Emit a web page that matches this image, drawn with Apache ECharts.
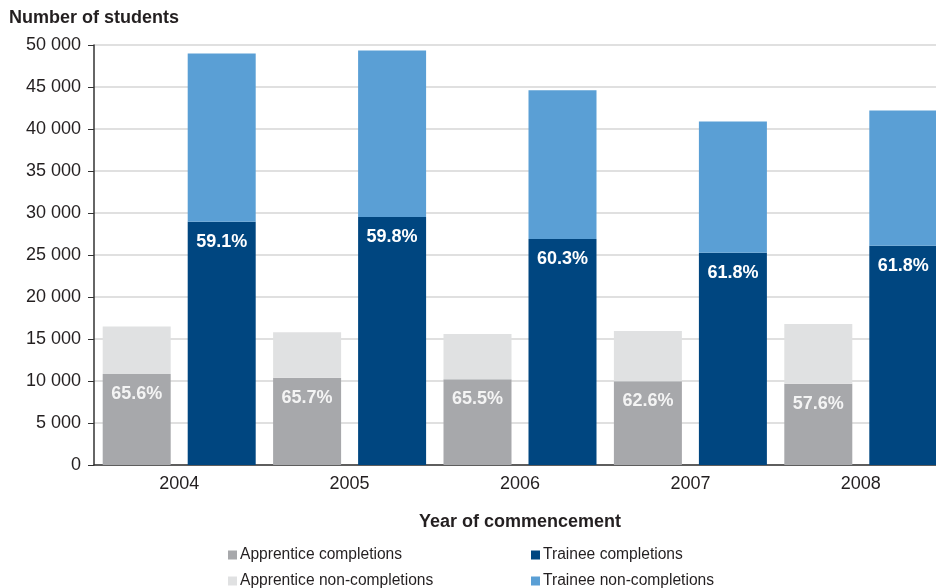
<!DOCTYPE html>
<html>
<head>
<meta charset="utf-8">
<script src="https://cdn.jsdelivr.net/npm/echarts@6/dist/echarts.min.js"></script>
<style>
  html, body { margin: 0; padding: 0; background: #fff; }
  #chart { width: 936px; height: 588px; }
</style>
</head>
<body>
<div id="chart"></div>
<script>
// Year of commencement
const years = ['2004', '2005', '2006', '2007', '2008'];

// Number of students by outcome
const apprenticeCompletions    = [10820, 10380, 10220, 9980, 9680];
const apprenticeNonCompletions = [5680, 5420, 5380, 5970, 7120];
const traineeCompletions       = [28960, 29510, 26890, 25280, 26100];
const traineeNonCompletions    = [20040, 19840, 17710, 15620, 16100];

// Completion rates printed on the completion bars
const apprenticeRates = ['65.6%', '65.7%', '65.5%', '62.6%', '57.6%'];
const traineeRates    = ['59.1%', '59.8%', '60.3%', '61.8%', '61.8%'];

const FONT = '"Liberation Sans", Arial, Helvetica, sans-serif';
const TEXT = '#231f20';

const chart = echarts.init(document.getElementById('chart'), null, { renderer: 'canvas' });

function rateLabel(rates, color) {
  return {
    show: true,
    position: 'insideTop',
    distance: 11,
    color: color,
    fontFamily: FONT,
    fontSize: 18,
    fontWeight: 'bold',
    formatter: p => rates[p.dataIndex]
  };
}

function legendItem(name, left, top) {
  return {
    data: [name],
    left: left,
    top: top,
    padding: 0,
    icon: 'rect',
    itemWidth: 9,
    itemHeight: 9,
    itemGap: 0,
    selectedMode: false,
    textStyle: { fontFamily: FONT, fontSize: 15.6, color: TEXT, padding: [0, 0, 0, -2] }
  };
}

chart.setOption({
  animation: false,
  backgroundColor: '#ffffff',
  title: {
    text: 'Number of students',
    left: 9,
    top: 9,
    padding: 0,
    textStyle: { fontFamily: FONT, fontSize: 18, fontWeight: 'bold', color: TEXT }
  },
  legend: [
    legendItem('Apprentice completions', 228, 547),
    legendItem('Apprentice non-completions', 228, 573),
    legendItem('Trainee completions', 531, 547),
    legendItem('Trainee non-completions', 531, 573)
  ],
  grid: {
    left: 94, top: 45, width: 852, height: 420,
    containLabel: false,
    outerBoundsMode: 'none'
  },
  xAxis: {
    type: 'category',
    data: years,
    name: 'Year of commencement',
    nameLocation: 'middle',
    nameGap: 48,
    nameTextStyle: { fontFamily: FONT, fontSize: 18, fontWeight: 'bold', color: TEXT },
    axisLine: { show: true, lineStyle: { color: '#333', width: 1.5 } },
    axisTick: { show: false },
    axisLabel: { margin: 10, fontFamily: FONT, fontSize: 18, color: TEXT }
  },
  yAxis: {
    type: 'value',
    min: 0,
    max: 50000,
    interval: 5000,
    axisLine: { show: true, lineStyle: { color: '#333', width: 1.5 } },
    axisTick: { show: true, length: 6, lineStyle: { color: '#333', width: 1 } },
    splitLine: { show: true, lineStyle: { color: '#d6d6d6', width: 1.5 } },
    axisLabel: {
      margin: 13,
      fontFamily: FONT,
      fontSize: 18,
      color: TEXT,
      formatter: v => String(v).replace(/\B(?=(\d{3})+(?!\d))/g, ' ')
    }
  },
  series: [
    {
      name: 'Apprentice completions',
      type: 'bar',
      stack: 'apprentice',
      data: apprenticeCompletions,
      barWidth: 68,
      barGap: '25%',
      itemStyle: { color: '#a7a8ab' },
      label: rateLabel(apprenticeRates, '#f4f4f4')
    },
    {
      name: 'Apprentice non-completions',
      type: 'bar',
      stack: 'apprentice',
      data: apprenticeNonCompletions,
      barWidth: 68,
      barGap: '25%',
      itemStyle: { color: '#e0e1e2' }
    },
    {
      name: 'Trainee completions',
      type: 'bar',
      stack: 'trainee',
      data: traineeCompletions,
      barWidth: 68,
      barGap: '25%',
      itemStyle: { color: '#004680' },
      label: rateLabel(traineeRates, '#ffffff')
    },
    {
      name: 'Trainee non-completions',
      type: 'bar',
      stack: 'trainee',
      data: traineeNonCompletions,
      barWidth: 68,
      barGap: '25%',
      itemStyle: { color: '#5a9fd5' }
    }
  ]
});
</script>
</body>
</html>
